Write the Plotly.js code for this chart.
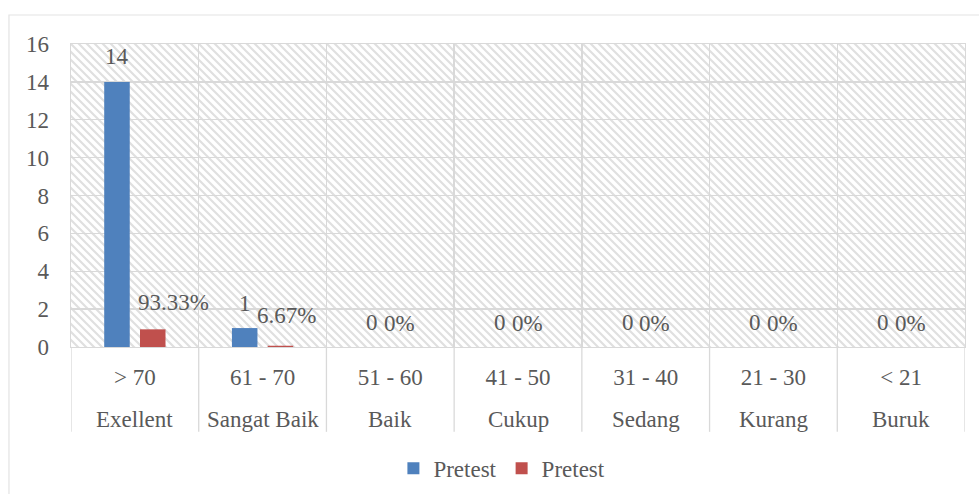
<!DOCTYPE html>
<html>
<head>
<meta charset="utf-8">
<script src="https://cdn.plot.ly/plotly-3.0.1.min.js"></script>
<style>html,body{margin:0;padding:0;background:#fff;}#chart{width:979px;height:494px;}</style>
</head>
<body>
<div id="chart"></div>
<script>
// ---- data ----
const ranges = ['> 70', '61 - 70', '51 - 60', '41 - 50', '31 - 40', '21 - 30', '< 21'];
const names = ['Exellent', 'Sangat Baik', 'Baik', 'Cukup', 'Sedang', 'Kurang', 'Buruk'];
const pretestCount = [14, 1, 0, 0, 0, 0, 0];
const pretestPct = [0.9333, 0.0667, 0, 0, 0, 0, 0];
const pctLabels = ['93.33%', '6.67%', '0%', '0%', '0%', '0%', '0%'];
const seriesNames = ['Pretest', 'Pretest'];
const yTicks = [0, 2, 4, 6, 8, 10, 12, 14, 16];

// ---- style ----
const FONT = '"Liberation Serif", "Times New Roman", serif';
const TXT = '#595959';
const GRID = '#d9d9d9';
const FS = 23;
const redXShift = [39, 24, 9, 9, 9, 9, 9];
const redYShift = [27, 30, 24, 24, 24, 24, 24];

const traces = [
  {type: 'bar', name: seriesNames[0], x: ranges, y: pretestCount,
   width: 0.2, offset: -0.24, marker: {color: '#4f81bd'}, hoverinfo: 'y'},
  {type: 'bar', name: seriesNames[1], x: ranges, y: pretestPct,
   width: 0.2, offset: 0.04, marker: {color: '#c0504d'}, hoverinfo: 'y'}
];

const annotations = [];
ranges.forEach((r, i) => {
  annotations.push({x: i, y: pretestCount[i], xref: 'x', yref: 'y', text: String(pretestCount[i]),
    showarrow: false, xshift: -18, yshift: 25, yanchor: 'middle', font: {family: FONT, size: FS, color: TXT}});
  annotations.push({x: i, y: pretestPct[i], xref: 'x', yref: 'y', text: pctLabels[i],
    showarrow: false, xshift: redXShift[i], yshift: redYShift[i], yanchor: 'middle', font: {family: FONT, size: FS, color: TXT}});
  annotations.push({x: i, y: -0.238, xref: 'x', yref: 'paper', text: names[i],
    showarrow: false, yanchor: 'middle', font: {family: FONT, size: FS, color: TXT}});
});

const shapes = [];
for (let i = 0; i <= ranges.length; i++) {
  shapes.push({type: 'line', xref: 'x', yref: 'paper', x0: i - 0.5, x1: i - 0.5, y0: -0.28, y1: 0,
    line: {color: GRID, width: 1.3}});
}
// outer chart border (partially visible)
shapes.push({type: 'rect', xref: 'paper', yref: 'paper', x0: -0.0694, x1: 1.03, y0: -0.52, y1: 1.0957,
  line: {color: '#e3e3e3', width: 1.2}, fillcolor: 'rgba(0,0,0,0)', layer: 'below'});

const hatch = 'data:image/svg+xml;base64,' + btoa(
  '<svg xmlns="http://www.w3.org/2000/svg" width="894" height="303">' +
  '<defs><pattern id="p" patternUnits="userSpaceOnUse" width="8" height="8">' +
  '<path d="M-2,-2 L10,10 M-2,6 L2,10 M6,-2 L10,2" stroke="#e0e0e0" stroke-width="2.2"/></pattern></defs>' +
  '<rect width="894" height="303" fill="url(#p)"/></svg>');

const layout = {
  width: 979, height: 494,
  margin: {l: 71, r: 14, t: 44, b: 147, autoexpand: false},
  paper_bgcolor: '#ffffff', plot_bgcolor: 'rgba(0,0,0,0)',
  font: {family: FONT, size: FS, color: TXT},
  barmode: 'overlay',
  showlegend: true,
  legend: {orientation: 'h', x: 0.482, xanchor: 'center', yref: 'container', y: 0.052, yanchor: 'middle',
    font: {family: FONT, size: FS, color: TXT}, itemwidth: 30, bgcolor: 'rgba(0,0,0,0)'},
  xaxis: {type: 'category', tickson: 'boundaries', showgrid: true, gridcolor: GRID, gridwidth: 1.3,
    showline: true, linecolor: GRID, linewidth: 1.3, mirror: true, ticks: '',
    ticklabelstandoff: 9, automargin: false,
    tickfont: {family: FONT, size: FS, color: TXT}, range: [-0.5, 6.5], fixedrange: true},
  yaxis: {range: [0, 16], tickvals: yTicks, ticktext: yTicks.map(String), showgrid: true, gridcolor: GRID, gridwidth: 1.3,
    showline: true, linecolor: GRID, linewidth: 1.3, mirror: true, zeroline: false, ticks: '', automargin: false,
    ticklabelstandoff: 16, tickfont: {family: FONT, size: FS, color: TXT}, fixedrange: true},
  images: [{source: hatch, xref: 'paper', yref: 'paper', x: 0, y: 1, sizex: 1, sizey: 1,
    sizing: 'stretch', xanchor: 'left', yanchor: 'top', layer: 'below'}],
  annotations: annotations,
  shapes: shapes
};

Plotly.newPlot('chart', traces, layout, {displayModeBar: false, staticPlot: true});
</script>
</body>
</html>
